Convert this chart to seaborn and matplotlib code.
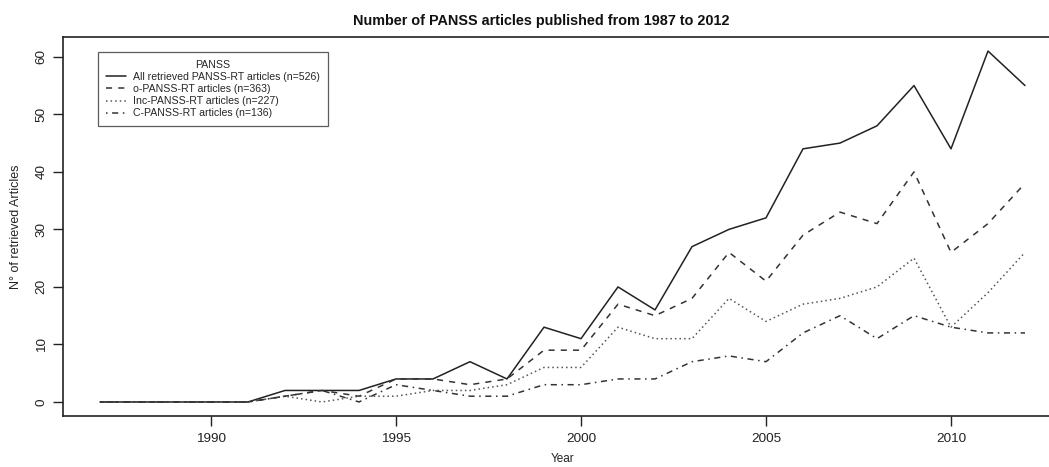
import matplotlib
matplotlib.use("Agg")
import matplotlib.pyplot as plt
from matplotlib.lines import Line2D
import seaborn as sns
import pandas as pd

# values, 1987..2012
years = list(range(1987, 2013))
all_rt = [0, 0, 0, 0, 0, 2, 2, 2, 4, 4, 7, 4, 13, 11, 20, 16, 27, 30, 32, 44, 45, 48, 55, 44, 61, 55]
o_rt = [0, 0, 0, 0, 0, 1, 2, 1, 4, 4, 3, 4, 9, 9, 17, 15, 18, 26, 21, 29, 33, 31, 40, 26, 31, 38]
inc_rt = [0, 0, 0, 0, 0, 1, 0, 1, 1, 2, 2, 3, 6, 6, 13, 11, 11, 18, 14, 17, 18, 20, 25, 13, 19, 26]
c_rt = [0, 0, 0, 0, 0, 1, 2, 0, 3, 2, 1, 1, 3, 3, 4, 4, 7, 8, 7, 12, 15, 11, 15, 13, 12, 12]

labels = ["All retrieved PANSS-RT articles (n=526)",
          "o-PANSS-RT articles (n=363)",
          "Inc-PANSS-RT articles (n=227)",
          "C-PANSS-RT articles (n=136)"]

df = pd.concat([
    pd.DataFrame({"Year": years, "n": vals, "series": lab})
    for vals, lab in zip([all_rt, o_rt, inc_rt, c_rt], labels)
])

sns.set_style("white")
plt.rcParams["font.family"] = ["Liberation Sans", "DejaVu Sans"]

W, H = 1049, 467
fig = plt.figure(figsize=(W / 100, H / 100), dpi=100)
ax = fig.add_axes([63 / W, 51 / H, 999 / W, 379 / H])

dashes = {labels[0]: "", labels[1]: (4, 4), labels[2]: (1, 2), labels[3]: (1, 3, 4, 3)}
colors = {labels[0]: "#222222", labels[1]: "#333333", labels[2]: "#555555", labels[3]: "#333333"}

sns.lineplot(data=df, x="Year", y="n", hue="series", style="series",
             dashes=dashes, palette=colors, linewidth=1.1, ax=ax, legend=False)

ax.set_xlim(1986, 2013)
ax.set_ylim(-2.44, 63.44)
ax.set_xticks([1990, 1995, 2000, 2005, 2010])
ax.set_yticks([0, 10, 20, 30, 40, 50, 60])
ax.tick_params(axis="both", direction="out", length=7, width=1, color="#222222",
               labelsize=9.7, labelcolor="#222222", left=True, bottom=True)
for lab in ax.get_yticklabels():
    lab.set_rotation(90)
    lab.set_va("center")
ax.tick_params(axis="x", pad=5)
ax.tick_params(axis="y", pad=4)
for sp in ax.spines.values():
    sp.set_color("#222222")
    sp.set_linewidth(1.2)

ax.set_xlabel("Year", fontsize=8.5, color="#222222", labelpad=6)
ax.set_ylabel("N° of retrieved Articles", fontsize=9, color="#222222", labelpad=10)

fig.text(541 / W, 1 - 21 / H, "Number of PANSS articles published from 1987 to 2012",
         ha="center", va="center", fontsize=10.4, fontweight="bold", color="#111111")

handles = [Line2D([], [], color=colors[l], linewidth=1.1,
                  linestyle="-" if dashes[l] == "" else (0, dashes[l])) for l in labels]
leg = ax.legend(handles, labels, title="PANSS", loc="upper left",
                bbox_to_anchor=(98 / W, 1 - 52 / H), bbox_transform=fig.transFigure,
                borderaxespad=0, fontsize=7.6, title_fontsize=7.6, frameon=True,
                fancybox=False, edgecolor="#333333", handlelength=1.9,
                handletextpad=0.7, labelspacing=0.2, borderpad=0.75)
leg.get_frame().set_linewidth(0.9)

fig.savefig("out.png", dpi=100)
